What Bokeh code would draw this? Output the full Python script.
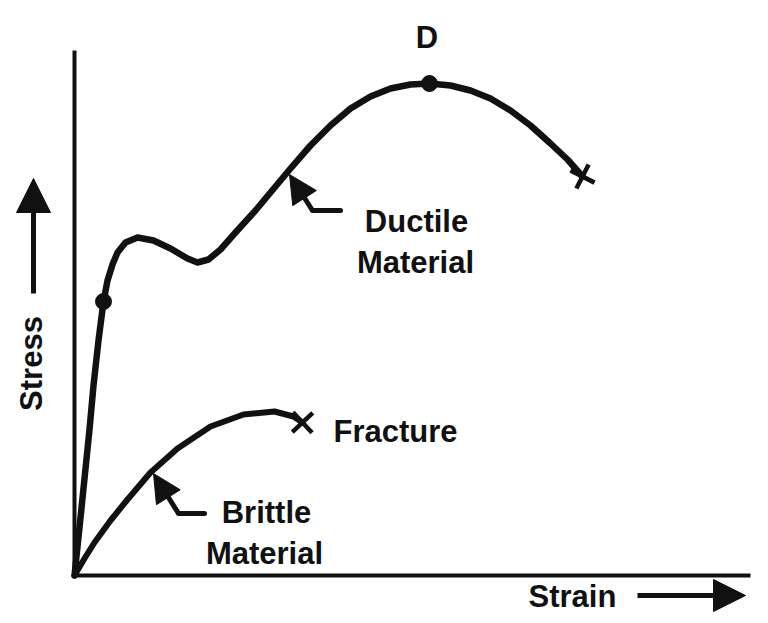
from bokeh.plotting import figure
from bokeh.models import Range1d, Label, Arrow, NormalHead
from bokeh.embed import file_html
from bokeh.resources import INLINE

# ---- data (arbitrary strain / stress units) ----
ductile_strain = [0, 5, 10, 15, 19, 24, 29, 33, 38, 43, 51, 63, 79, 96, 113, 123, 134,
                  146, 161, 181, 201, 216, 236, 256, 276, 296, 316, 336, 355, 376, 396,
                  416, 436, 456, 476, 493, 508]
ductile_stress = [0, 48, 97, 146, 190, 235, 274, 295, 311, 323, 333, 338, 335, 327, 317,
                  313, 316, 326, 343, 365, 389, 407, 430, 450, 467, 479, 487, 491, 492,
                  490, 485, 477, 465, 450, 432, 416, 399]
yield_idx = 6       # first dot on ductile curve
ultimate_idx = 28   # point D

brittle_strain = [0, 10, 20, 36, 53, 76, 103, 136, 169, 200, 219, 228]
brittle_stress = [0, 17, 33, 55, 76, 103, 127, 149, 161, 164, 159, 153]

axis_len_x = 674
axis_len_y = 523

INK = "#111111"
FONT = "Liberation Sans"
FS = "31px"

p = figure(width=760, height=615, x_range=Range1d(-74, 686), y_range=Range1d(-40, 575),
           output_backend="svg", toolbar_location=None, min_border=0)
p.axis.visible = False
p.grid.visible = False
p.outline_line_color = None
p.background_fill_color = "white"
p.border_fill_color = "white"

# axes lines
p.segment(x0=[0, 0], y0=[0, 0], x1=[0, axis_len_x], y1=[axis_len_y, 0],
          line_color=INK, line_width=4, line_cap="square")

# curves
p.line(ductile_strain, ductile_stress, line_color=INK, line_width=6.5,
       line_join="round", line_cap="round")
p.line(brittle_strain, brittle_stress, line_color=INK, line_width=6,
       line_join="round", line_cap="round")

# dots
p.scatter([ductile_strain[yield_idx], ductile_strain[ultimate_idx]],
          [ductile_stress[yield_idx], ductile_stress[ultimate_idx]],
          size=16, marker="circle", fill_color=INK, line_color=INK)

# fracture crosses
p.scatter([ductile_strain[-1]], [ductile_stress[-1]], marker="cross", size=27,
          angle=-27, angle_units="deg", line_color=INK, line_width=4.5)
p.scatter([brittle_strain[-1]], [brittle_stress[-1]], marker="cross", size=28,
          angle=43, angle_units="deg", line_color=INK, line_width=4.5)

# pointer arrows
def pointer(x_tip, y_tip, x_bend, y_bend, x_end):
    p.add_layout(Arrow(x_start=x_bend, y_start=y_bend, x_end=x_tip, y_end=y_tip,
                       line_color=INK, line_width=5,
                       end=NormalHead(size=28, fill_color=INK, line_color=INK, line_width=1)))
    p.line([x_bend, x_end], [y_bend, y_bend], line_color=INK, line_width=5, line_cap="round")

pointer(215, 401, 238, 365, 266)
pointer(79, 102, 104, 62, 130)

# axis direction arrows
p.add_layout(Arrow(x_start=-41, y_start=282, x_end=-41, y_end=397, line_color=INK,
                   line_width=5,
                   end=NormalHead(size=34, fill_color=INK, line_color=INK, line_width=1)))
p.add_layout(Arrow(x_start=563, y_start=-20, x_end=671, y_end=-20, line_color=INK,
                   line_width=5,
                   end=NormalHead(size=32, fill_color=INK, line_color=INK, line_width=1)))

def lab(x, y, t, align="center", angle=0):
    p.add_layout(Label(x=x, y=y, text=t, text_font=FONT, text_font_size=FS,
                       text_font_style="bold",
                       text_color=INK, text_align=align, text_baseline="alphabetic",
                       angle=angle, angle_units="deg"))

lab(352.5, 538, "D")
lab(342, 354, "Ductile")
lab(341, 313, "Material")
lab(259, 144, "Fracture", align="left")
lab(192, 63, "Brittle")
lab(190, 22, "Material")
lab(454, -21, "Strain", align="left")
lab(-43, 212, "Stress", angle=90)

open("out.html", "w").write(file_html(p, INLINE))
